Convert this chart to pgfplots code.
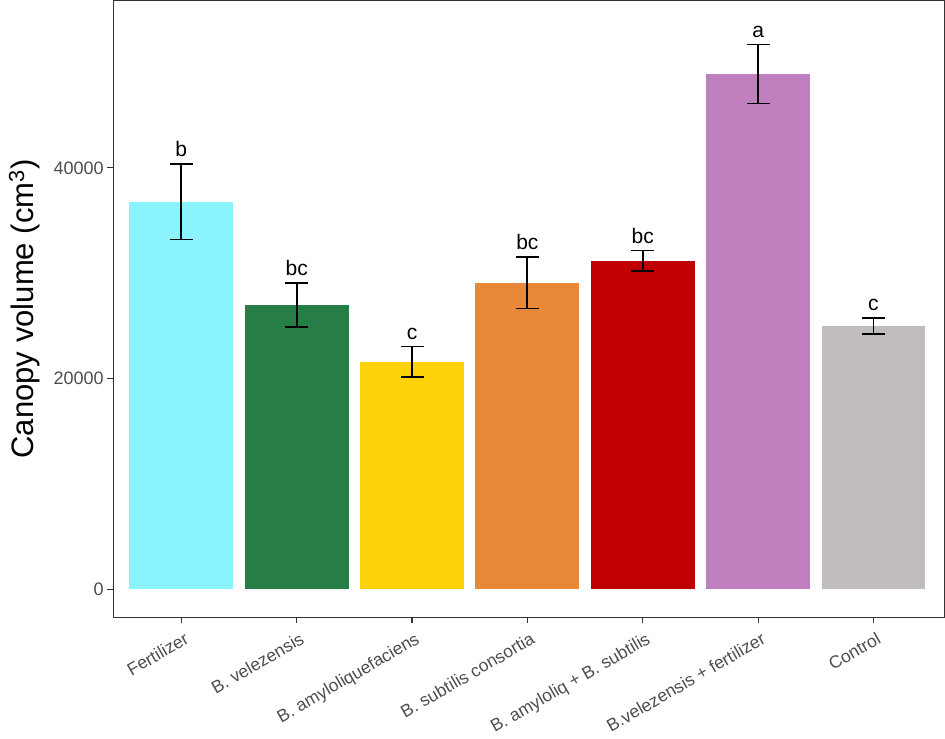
\documentclass[border=0pt]{standalone}
\usepackage{fontspec}
\setmainfont{Liberation Sans}
\usepackage{pgfplots}
\usepackage{pgfplotstable}
\pgfplotsset{compat=1.18}

\definecolor{cFert}{HTML}{8AF3FD}
\definecolor{cVel}{HTML}{267D46}
\definecolor{cAmy}{HTML}{FDD20A}
\definecolor{cSub}{HTML}{E8893A}
\definecolor{cMix}{HTML}{C00000}
\definecolor{cVelF}{HTML}{C080C0}
\definecolor{cCtrl}{HTML}{C0BDBC}
\definecolor{framegrey}{HTML}{333333}
\definecolor{tickgrey}{HTML}{4D4D4D}

% mean, standard error, letter of the group
\pgfplotstableread{
x y err lab
0 36800 3600 b
1 27000 2100 bc
2 21600 1450 c
3 29100 2450 bc
4 31200 950 bc
5 48900 2800 a
6 25000 760 c
}\canopy

% one bar with its error bar
\newcommand{\canopybar}[2]{%
  \addplot[ybar, bar width=0.9, bar shift=0pt, fill=#2, draw=none,
    restrict x to domain=#1:#1,
    error bars/.cd, y dir=both, y explicit,
    error bar style={black, line width=1.8pt},
    error mark options={black, rotate=90, mark size=11.5pt, line width=1.8pt}]
    table[x=x, y=y, y error=err]{\canopy};
}

\begin{document}
\begin{tikzpicture}
\begin{axis}[
    scale only axis,
    width=830pt, height=616pt,
    xmin=-0.59, xmax=6.615,
    ymin=-2660, ymax=55870,
    axis line style={draw=framegrey, line width=1.2pt},
    tick style={draw=framegrey, line width=1.2pt},
    tick align=outside,
    major tick length=6pt,
    xtick pos=lower, ytick pos=lower,
    xtick={0,1,2,3,4,5,6},
    xticklabels={Fertilizer, B. velezensis, B. amyloliquefaciens, B. subtilis consortia, B. amyloliq + B. subtilis, B.velezensis + fertilizer, Control},
    xticklabel style={rotate=30, anchor=north east, inner sep=2pt, yshift=-6pt,
      font=\fontsize{17.5}{20}\selectfont, text=tickgrey},
    ytick={0,20000,40000},
    scaled y ticks=false,
    yticklabel style={font=\fontsize{18}{21}\selectfont, text=tickgrey,
      /pgf/number format/fixed, /pgf/number format/1000 sep={}},
    /pgf/number format/assume math mode=true,
    ylabel={Canopy volume (cm\textsuperscript{3})},
    ylabel style={at={(axis description cs:-0.107,0.5)}, anchor=center,
      inner xsep=0pt, inner ysep=9pt, font=\fontsize{31}{34}\selectfont},
]
\canopybar{0}{cFert}
\canopybar{1}{cVel}
\canopybar{2}{cAmy}
\canopybar{3}{cSub}
\canopybar{4}{cMix}
\canopybar{5}{cVelF}
\canopybar{6}{cCtrl}

% letters above the error bars
\addplot[draw=none, mark=none, nodes near coords, point meta=explicit symbolic,
  nodes near coords style={anchor=base, yshift=7pt, inner sep=0pt, text=black,
    font=\fontsize{21}{24}\selectfont}]
  table[x=x, y expr=\thisrow{y}+\thisrow{err}, meta=lab]{\canopy};
\end{axis}
\end{tikzpicture}
\end{document}
